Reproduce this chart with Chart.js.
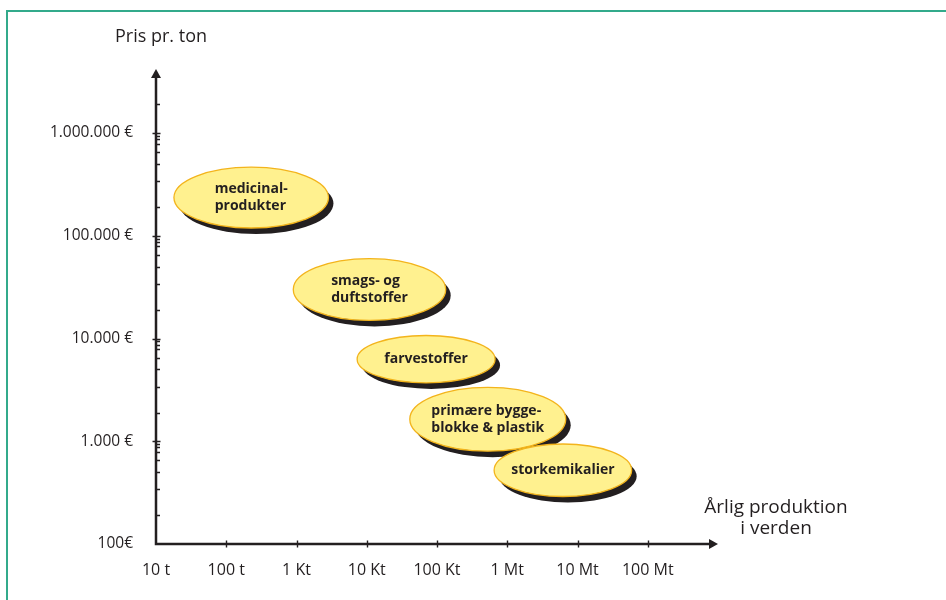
<!DOCTYPE html>
<html>
<head>
<meta charset="utf-8">
<title>Pris pr. ton / årlig produktion</title>
<script src="https://cdn.jsdelivr.net/npm/chart.js@4.4.1/dist/chart.umd.min.js"></script>
<style>
    html, body { margin: 0; padding: 0; background: #fff; }
    #wrap { position: relative; width: 946px; height: 600px; overflow: hidden; }
    #frame {
        position: absolute; left: 6px; top: 10px; width: 960px; height: 620px;
        border-left: 2px solid #33aa8b; border-top: 2px solid #33aa8b;
    }
    #chart { position: absolute; left: 0; top: 0; }
</style>
</head>
<body>
<div id="wrap">
    <div id="frame"></div>
    <canvas id="chart" width="946" height="600"></canvas>
</div>
<script>
// Årlig produktion (t) mod pris pr. ton (€), begge akser logaritmiske

const xTickValues = [10, 100, 1000, 10000, 100000, 1000000, 10000000, 100000000];
const xTickLabels = ['10 t', '100 t', '1 Kt', '10 Kt', '100 Kt', '1 Mt', '10 Mt', '100 Mt'];

const yTickValues = [100, 1000, 10000, 100000, 1000000];
const yTickLabels = ['100€', '1.000 €', '10.000 €', '100.000 €', '1.000.000 €'];
// små streger på y-aksen
const yMinorTicks = [
    190, 340, 500, 650, 790, 870, 940,
    1900, 3400, 5000, 6500, 7900, 8700, 9400,
    19000, 34000, 50000, 65000, 79000, 87000, 94000,
    190000, 340000, 500000, 650000, 790000, 870000, 940000,
    1900000
];

// hver gruppe: interval for produktion og pris
const groupLabels = ['medicinal-\nprodukter', 'smags- og\nduftstoffer', 'farvestoffer', 'primære bygge-\nblokke & plastik', 'storkemikalier'];
const productionLow  = [18, 900, 7300, 41000, 650000];
const productionHigh = [2850, 133000, 670000, 6800000, 59000000];
const priceLow  = [119000, 15000, 3700, 800, 290];
const priceHigh = [465000, 60000, 10700, 3350, 940];

const INK = '#231f20';
const FONT = "'Open Sans', 'Noto Sans', sans-serif";

(function () {
    'use strict';

    // akser med pile og tickstreger
    const axesPlugin = {
        id: 'axesArrows',
        beforeDatasetsDraw(chart) {
            const { ctx, chartArea: a, scales: { x, y } } = chart;
            const x0 = x.getPixelForValue(xTickValues[0]);
            const y0 = y.getPixelForValue(yTickValues[0]);
            ctx.save();
            ctx.strokeStyle = INK;
            ctx.fillStyle = INK;

            ctx.lineWidth = 2.5;
            ctx.beginPath();
            ctx.moveTo(x0, y0 + 1.2);
            ctx.lineTo(x0, a.top + 6);
            ctx.moveTo(x0 - 1.2, y0);
            ctx.lineTo(a.right - 6, y0);
            ctx.stroke();

            // pilespidser
            ctx.beginPath();
            ctx.moveTo(x0, a.top);
            ctx.lineTo(x0 - 5, a.top + 9);
            ctx.lineTo(x0 + 5, a.top + 9);
            ctx.closePath();
            ctx.fill();
            ctx.beginPath();
            ctx.moveTo(a.right, y0);
            ctx.lineTo(a.right - 9, y0 - 5);
            ctx.lineTo(a.right - 9, y0 + 5);
            ctx.closePath();
            ctx.fill();

            ctx.lineWidth = 1.4;
            ctx.beginPath();
            xTickValues.slice(1).forEach(v => {
                const px = Math.round(x.getPixelForValue(v)) + 0.5;
                ctx.moveTo(px, y0 - 3.5);
                ctx.lineTo(px, y0 + 3.5);
            });
            yTickValues.slice(1).forEach(v => {
                const py = Math.round(y.getPixelForValue(v)) + 0.5;
                ctx.moveTo(x0 - 3.5, py);
                ctx.lineTo(x0 + 4.5, py);
            });
            yMinorTicks.forEach(v => {
                const py = Math.round(y.getPixelForValue(v)) + 0.5;
                ctx.moveTo(x0, py);
                ctx.lineTo(x0 + 4, py);
            });
            ctx.stroke();

            // aksetitler
            ctx.textAlign = 'center';
            ctx.textBaseline = 'alphabetic';
            ctx.font = `18px ${FONT}`;
            ctx.fillText('Pris pr. ton', x0 + 5, 42);
            ctx.font = `19px ${FONT}`;
            ctx.fillText('Årlig produktion', a.right + 58, y0 - 31);
            ctx.fillText('i verden', a.right + 58, y0 - 10);
            ctx.restore();
        }
    };

    // gule ellipser med skygge, tegnet ud fra hvert datasæts interval
    const ellipsePlugin = {
        id: 'groupEllipses',
        afterDatasetsDraw(chart) {
            const { ctx, scales: { x, y } } = chart;
            ctx.save();
            chart.data.datasets.forEach(ds => {
                const [lo, hi] = ds.data;
                const l = x.getPixelForValue(lo.x), r = x.getPixelForValue(hi.x);
                const b = y.getPixelForValue(lo.y), t = y.getPixelForValue(hi.y);
                const cx = (l + r) / 2, cy = (t + b) / 2;
                const rx = (r - l) / 2, ry = (b - t) / 2;

                ctx.fillStyle = INK;
                ctx.beginPath();
                ctx.ellipse(cx + 5, cy + 6, rx, ry, 0, 0, Math.PI * 2);
                ctx.fill();

                ctx.fillStyle = '#fff18f';
                ctx.strokeStyle = '#f3b41c';
                ctx.lineWidth = 1.3;
                ctx.beginPath();
                ctx.ellipse(cx, cy, rx, ry, 0, 0, Math.PI * 2);
                ctx.fill();
                ctx.stroke();

                const lines = ds.label.split('\n');
                ctx.font = `bold 14px ${FONT}`;
                ctx.fillStyle = INK;
                ctx.textBaseline = 'middle';
                ctx.textAlign = 'left';
                const w = Math.max(...lines.map(s => ctx.measureText(s).width));
                const lh = 17;
                lines.forEach((s, i) => {
                    ctx.fillText(s, cx - w / 2, cy + (i - (lines.length - 1) / 2) * lh);
                });
            });
            ctx.restore();
        }
    };

    const datasets = groupLabels.map((label, i) => ({
        label,
        data: [
            { x: productionLow[i], y: priceLow[i] },
            { x: productionHigh[i], y: priceHigh[i] }
        ],
        pointRadius: 0,
        showLine: false
    }));

    new Chart(document.getElementById('chart'), {
        type: 'scatter',
        data: { datasets },
        options: {
            responsive: false,
            animation: false,
            layout: { padding: { top: 69, right: 228, bottom: 0, left: 0 } },
            plugins: {
                legend: { display: false },
                tooltip: { enabled: false }
            },
            scales: {
                x: {
                    type: 'logarithmic',
                    position: 'bottom',
                    min: 10,
                    max: 1000000000,
                    afterBuildTicks(s) { s.ticks = xTickValues.map(v => ({ value: v })); },
                    afterFit(s) { s.height = 56; },
                    grid: { display: false, drawTicks: false },
                    border: { display: false },
                    ticks: {
                        autoSkip: false,
                        maxRotation: 0,
                        padding: 17,
                        color: INK,
                        font: { family: FONT, size: 16 },
                        callback: (v, i) => xTickLabels[i]
                    }
                },
                y: {
                    type: 'logarithmic',
                    position: 'left',
                    min: 100,
                    max: 4200000,
                    afterBuildTicks(s) { s.ticks = yTickValues.map(v => ({ value: v })); },
                    afterFit(s) { s.width = 156; },
                    grid: { display: false, drawTicks: false },
                    border: { display: false },
                    ticks: {
                        autoSkip: false,
                        padding: 23,
                        color: INK,
                        font: { family: FONT, size: 15.5 },
                        callback: (v, i) => yTickLabels[i]
                    }
                }
            }
        },
        plugins: [axesPlugin, ellipsePlugin]
    });
})();
</script>
</body>
</html>
